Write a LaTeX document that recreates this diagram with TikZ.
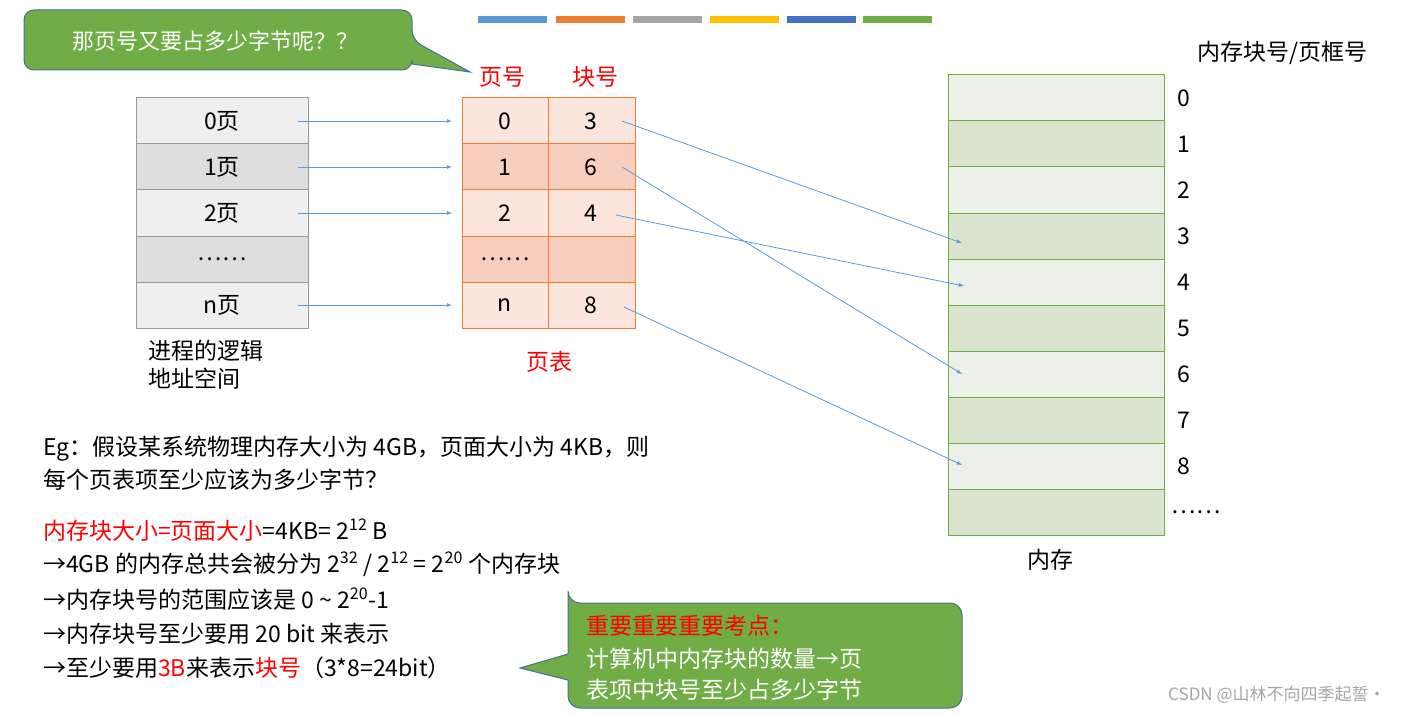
\documentclass[tikz,border=0pt]{standalone}
\usepackage{fontspec}
\setmainfont{Noto Sans CJK SC}
\definecolor{lg1}{RGB}{239,239,239}\definecolor{lg2}{RGB}{222,222,222}
\definecolor{po1}{RGB}{251,229,221}\definecolor{po2}{RGB}{248,206,190}
\definecolor{mg1}{RGB}{235,241,233}\definecolor{mg2}{RGB}{217,229,207}
\definecolor{ored}{RGB}{237,125,49}
\definecolor{cblue}{RGB}{91,155,213}
\definecolor{cgray}{RGB}{165,165,165}
\definecolor{cyel}{RGB}{255,192,0}
\definecolor{cdblue}{RGB}{68,114,196}
\definecolor{cgreen}{RGB}{112,173,71}
\definecolor{cedge}{RGB}{65,113,156}
\begin{document}
\begin{tikzpicture}[x={(1pt,0pt)},y={(0pt,-1pt)},
  every node/.style={inner sep=0pt},
  txt/.style={font=\fontsize{23}{26}\selectfont},
  lcell/.style={draw=gray!80,line width=1pt},
  arr/.style={draw=cblue,line width=0.8pt,-latex},
  callout/.style={fill=cgreen,draw=cedge,line width=1pt}]
\useasboundingbox (0,0) rectangle (1418,714);
% bars
\foreach \x/\c in {478/cblue,556/ored,633/cgray,710/cyel,787/cdblue,863/cgreen}
  \fill[\c] (\x,16) rectangle ++(69,7);
% callout 1
\draw[callout,rounded corners=10pt] (24,10) -- (412,10) -- (412,40) [sharp corners]-- (470,72) -- (412,64) [rounded corners=10pt]-- (412,70) -- (24,70) -- cycle;
\node[text=white,font=\fontsize{22}{24}\selectfont] (c1) at (215,41) {那页号又要占多少字节呢？？};
% left table
\foreach \i/\t/\f in {0/0页/lg1,1/1页/lg2,2/2页/lg1,3/……/lg2,4/n页/lg1}{
  \draw[lcell,fill=\f] (136,98+46*\i) rectangle (308,144+46*\i);
  \node[txt] (L\i) at (222,121+46*\i) {\t};
  \coordinate (La\i) at (298,121+46*\i);
}
\node[txt,align=left,anchor=north west] (lbl) at (148,340) {进程的逻辑\\[2pt]地址空间};
% page table
\node[txt,text=red] (h1) at (502,77) {页号};
\node[txt,text=red] (h2) at (595,77) {块号};
\foreach \i/\a/\b/\f in {0/0/3/po1,1/1/6/po2,2/2/4/po1,3/……//po2,4/n/8/po1}{
  \draw[draw=ored,line width=1pt,fill=\f] (462,98+46*\i) rectangle (548,144+46*\i);
  \draw[draw=ored,line width=1pt,fill=\f] (548,98+46*\i) rectangle (635,144+46*\i);
  \node[txt] (P\i) at (505,121+46*\i) {\a};
  \node[txt] (B\i) at (591,121+46*\i) {\b};
  \coordinate (Pa\i) at (452,121+46*\i);
}
\node[txt,text=red] (pt) at (549,362) {页表};
\foreach \i in {0,1,2,4} \draw[arr] (La\i) -- (Pa\i);
% memory
\node[txt] (mh) at (1282,53) {内存块号/页框号};
\foreach \i/\ff in {0/mg1,1/mg2,2/mg1,3/mg2,4/mg1,5/mg2,6/mg1,7/mg2,8/mg1,9/mg2}{
  \draw[draw=cgreen,line width=1pt,fill=\ff] (948,75+46*\i) rectangle (1164,121+46*\i);
}
\foreach \i in {0,...,8} \node[txt] (n\i) at (1184,98+46*\i) {\i};
\node[txt] (ndots) at (1196,512) {……};
\node[txt] (mem) at (1050,560) {内存};
\coordinate (s0) at (622,121);\coordinate (s1) at (622,167);\coordinate (s2) at (616,215);\coordinate (s4) at (624,307);
\coordinate (m3) at (962,243);\coordinate (m6) at (962,374);\coordinate (m4) at (964,286);\coordinate (m8) at (962,465);
\draw[arr] (s0) -- (m3);
\draw[arr] (s1) -- (m6);
\draw[arr] (s2) -- (m4);
\draw[arr] (s4) -- (m8);
% text
\node[txt,anchor=west] (e1) at (43,449) {Eg：假设某系统物理内存大小为 4GB，页面大小为 4KB，则};
\node[txt,anchor=west] (e2) at (43,480) {每个页表项至少应该为多少字节？};
\node[txt,anchor=west] (t1) at (43,530) {\textcolor{red}{内存块大小=页面大小}=4KB= 2\textsuperscript{12} B};
\node[txt,anchor=west] (t2) at (43,564) {→4GB 的内存总共会被分为 2\textsuperscript{32} / 2\textsuperscript{12} = 2\textsuperscript{20} 个内存块};
\node[txt,anchor=west] (t3) at (43,599) {→内存块号的范围应该是 0 \textasciitilde{} 2\textsuperscript{20}-1};
\node[txt,anchor=west] (t4) at (43,634) {→内存块号至少要用 20 bit 来表示};
\node[txt,anchor=west] (t5) at (43,668) {→至少要用\textcolor{red}{3B}来表示\textcolor{red}{块号}（3*8=24bit）};
% callout 2
\draw[callout,rounded corners=12pt] (568,603) -- (962,603) -- (962,708) -- (568,708) [sharp corners]-- (568,680) -- (520,668) -- (568,654) [rounded corners=12pt]-- (568,603) -- cycle;
\node[txt,anchor=west,text=red] (c2a) at (586,626) {重要重要重要考点：};
\node[txt,anchor=west,text=white] (c2b) at (586,659) {计算机中内存块的数量→页};
\node[txt,anchor=west,text=white] (c2c) at (586,690) {表项中块号至少占多少字节};
\node[anchor=west,text=gray!70,font=\fontsize{17}{18}\selectfont] (w) at (1168,695) {CSDN @山林不向四季起誓·};
\end{tikzpicture}
\end{document}
